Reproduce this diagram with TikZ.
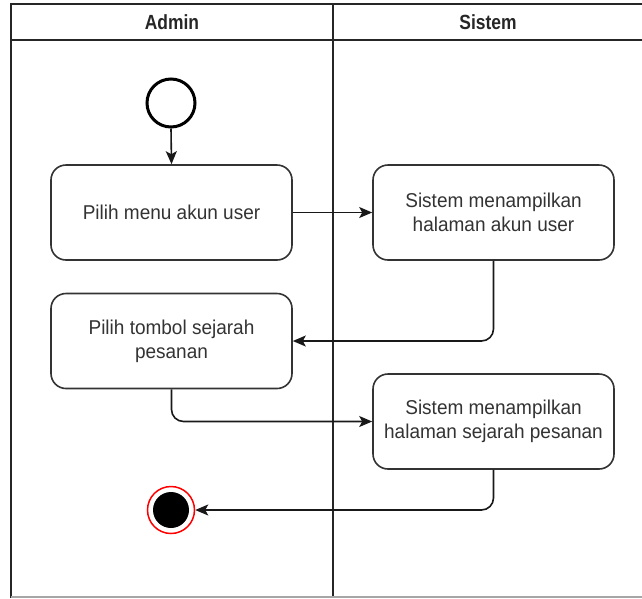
\documentclass[tikz,border=0pt]{standalone}
\usepackage{fontspec}
\setmainfont{Liberation Sans}
\newfontfamily\boxfont[FakeStretch=0.95]{Liberation Sans}
\newfontfamily\lanefont[FakeStretch=0.85]{Liberation Sans}
\usetikzlibrary{arrows.meta}
\definecolor{inkgray}{HTML}{333333}
\definecolor{endred}{HTML}{FF0000}
\tikzset{
  lane/.style={line width=1.8pt, draw=black!85},
  lanetitle/.style={font=\lanefont\bfseries\fontsize{20.5}{24}\selectfont, text=black!85},
  activity/.style={draw=inkgray, line width=1.6pt, rounded corners=15pt, fill=white,
    minimum width=241pt, minimum height=95pt, align=center, text=inkgray,
    font=\boxfont\fontsize{20}{24}\selectfont},
  flow/.style={line width=1.6pt, draw=black!90, rounded corners=12pt,
    -{Stealth[length=13pt,width=11pt,inset=3pt]}},
  startstate/.style={circle, draw=black, line width=3pt, minimum size=48pt, inner sep=0pt},
}
\begin{document}
\begin{tikzpicture}[x=1pt, y=-1pt]
\useasboundingbox (0,0) rectangle (642,598);
% swimlane frame
\draw[lane] (11,598) -- (11,4) -- (642,4);
\draw[lane] (11,40) -- (642,40);
\draw[lane] (333,4) -- (333,598);
\draw[line width=1.5pt, draw=black!35] (11,597) -- (642,597);
\node[lanetitle] (tadmin) at (172,22) {Admin};
\node[lanetitle] (tsistem) at (488,22) {Sistem};

% states
\node[startstate] (start) at (171,103) {};
\node[circle, draw=endred, line width=1.5pt, minimum size=47pt, inner sep=0pt] (end) at (171,510) {};
\node[circle, fill=black, minimum size=36pt, inner sep=0pt] (endcore) at (end.center) {};

% activities
\node[activity] (b1) at (171.5,212.5) {Pilih menu akun user};
\node[activity] (b2) at (493.5,212.5) {Sistem menampilkan\\halaman akun user};
\node[activity] (b3) at (171.5,341) {Pilih tombol sejarah\\pesanan};
\node[activity] (b4) at (493.5,421.5) {Sistem menampilkan\\halaman sejarah pesanan};

% control flow
\draw[flow] (start.south) -- (b1.north);
\draw[flow] (b1.east) -- (b2.west);
\draw[flow] (b2.south) |- (b3.east);
\draw[flow] (b3.south) |- (b4.west);
\draw[flow] (b4.south) |- (end.east);
\end{tikzpicture}
\end{document}
